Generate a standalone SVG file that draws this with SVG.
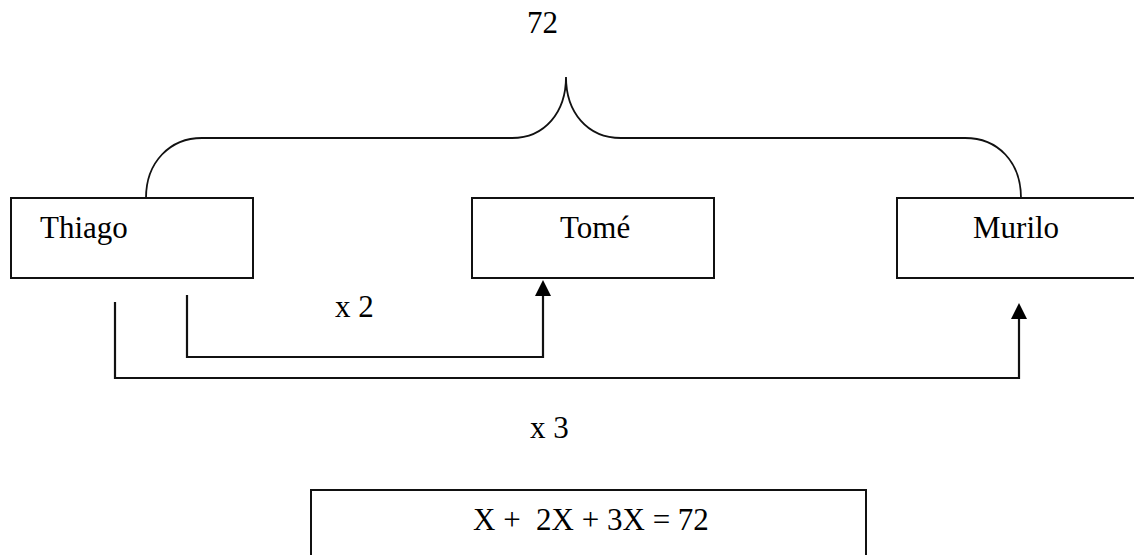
<svg xmlns="http://www.w3.org/2000/svg" width="1134" height="555" viewBox="0 0 1134 555">
  <style>
    .box { fill: #ffffff; stroke: #111111; stroke-width: 2; }
    .lbl { font-family: "Liberation Serif", "Times New Roman", serif; font-size: 31px; fill: #000000; }
    .wire { fill: none; stroke: #111111; stroke-width: 2.2; }
    .brace { fill: none; stroke: #111111; stroke-width: 1.8; }
    .head { fill: #000000; }
  </style>
  <defs>
    <filter id="soft" x="-30%" y="-30%" width="160%" height="160%">
      <feGaussianBlur stdDeviation="0.6"/>
    </filter>
  </defs>
  <rect width="1134" height="555" fill="#ffffff"/>

  <!-- total above the brace -->
  <text class="lbl" x="527" y="33">72</text>

  <!-- curly brace grouping the three people -->
  <path class="brace" d="M146,198 C146,162 170,138 202,138 L512,138 C545,138 566,112 566,77 C566,112 587,138 621,138 L965,138 C998,138 1021,162 1021,198"/>

  <g id="thiago">
    <rect class="box" x="11" y="198" width="242" height="80"/>
    <text class="lbl" x="40" y="238">Thiago</text>
  </g>

  <g id="tome">
    <rect class="box" x="472" y="198" width="242" height="80"/>
    <text class="lbl" x="560" y="238">Tomé</text>
  </g>

  <g id="murilo">
    <rect class="box" x="897" y="198" width="250" height="80"/>
    <text class="lbl" x="973" y="238">Murilo</text>
  </g>

  <g id="connectors">
    <path class="wire" d="M187,295 V357 H543 V294"/>
    <polygon class="head" filter="url(#soft)" points="543,280 535,296 551,296"/>
    <path class="wire" d="M115,302 V378 H1019 V317"/>
    <polygon class="head" filter="url(#soft)" points="1019,303 1011,319 1027,319"/>
  </g>

  <text class="lbl" x="335" y="317">x 2</text>
  <text class="lbl" x="530" y="438">x 3</text>

  <g id="equation">
    <path class="box" d="M311,560 V490 H866 V560"/>
    <text class="lbl" x="473" y="530" xml:space="preserve">X +  2X + 3X = 72</text>
  </g>
</svg>
